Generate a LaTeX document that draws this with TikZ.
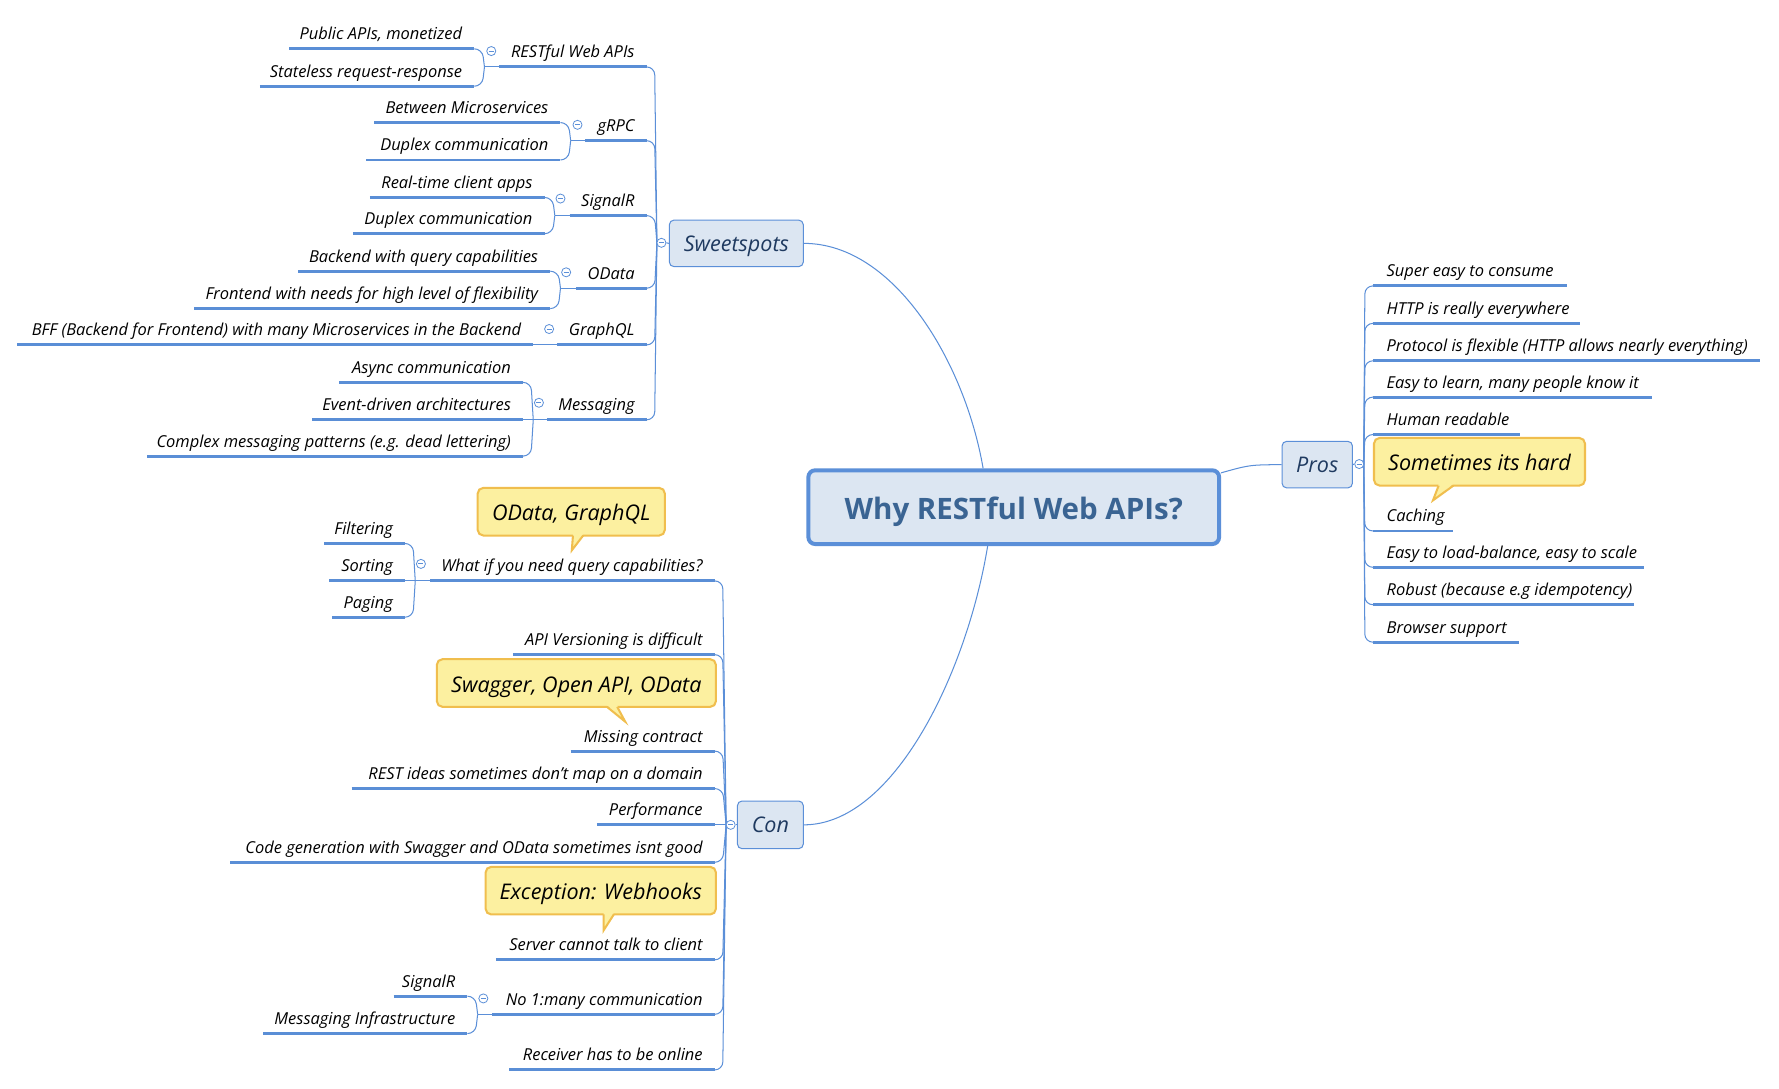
\documentclass[tikz,border=0pt]{standalone}
\usepackage{fontspec}
\setmainfont{Open Sans}
\usetikzlibrary{calc}
\definecolor{ublue}{HTML}{5A8ED6}
\definecolor{cblue}{HTML}{5B8FD8}
\definecolor{boxfill}{HTML}{DCE6F2}
\definecolor{callfill}{HTML}{FCF0A0}
\definecolor{callline}{HTML}{F0BE4E}
\definecolor{navy}{HTML}{1F3A60}
\definecolor{titleblue}{HTML}{3A6493}
% left topic: name, xstart, xend, y, text (text right aligned)
\newcommand\ltopic[5]{%
  \coordinate (#1s) at (#2,#4);
  \coordinate (#1e) at (#3,#4);
  \draw[uline] (#1s) -- (#1e);
  \node[leaf, anchor=base east] (#1) at (#3-10.5,#4-8) {#5};}
% right topic: name, xstart, xend, y, text (text left aligned)
\newcommand\rtopic[5]{%
  \coordinate (#1s) at (#2,#4);
  \coordinate (#1e) at (#3,#4);
  \draw[uline] (#1s) -- (#1e);
  \node[leaf, anchor=base west] (#1) at (#2+12,#4-8) {#5};}
\newcommand\lconn[2]{\draw[conn, rounded corners=7pt] (#1) -- ++(7,0) -- (#2);}
\newcommand\rconn[2]{\draw[conn, rounded corners=7pt] (#1) -- ++(-7,0) -- (#2);}
% baseline placed #1 pt below the node centre
\newcommand\dn[2]{\raisebox{-#1pt}[0pt][0pt]{#2}}
% pointer: b1x, b2x, bottom y, tip coordinate name
\newcommand\pointer[4]{%
  \fill[callfill] (#1,#3-1.5) -- (#4) -- (#2,#3-1.5) -- cycle;
  \draw[callline, line width=1.8pt, line join=miter] (#1,#3) -- (#4) -- (#2,#3);}
\begin{document}
\begin{tikzpicture}[x=1pt,y=-1pt,
  leaf/.style={inner sep=0pt, font=\fontsize{14.5}{17}\selectfont\itshape, text=black},
  uline/.style={draw=ublue, line width=2.6pt},
  conn/.style={draw=cblue, line width=0.9pt},
  minus/.style={circle, draw=cblue, fill=white, line width=0.7pt, minimum size=8pt, inner sep=0pt,
    path picture={\draw[cblue, line width=0.7pt] ([xshift=-2.2pt]path picture bounding box.center) -- ([xshift=2.2pt]path picture bounding box.center);}},
  mainbox/.style={rectangle, rounded corners=6pt, draw=cblue, line width=3.5pt, fill=boxfill,
    font=\fontsize{26}{30}\selectfont\bfseries, text=titleblue, inner sep=0pt},
  branch/.style={rectangle, rounded corners=4pt, draw=cblue, line width=0.9pt, fill=boxfill,
    font=\fontsize{19}{22}\selectfont\itshape, text=navy, inner sep=0pt},
  callbox/.style={rectangle, rounded corners=5pt, draw=callline, line width=1.8pt, fill=callfill,
    font=\fontsize{19}{22}\selectfont\itshape, text=black, inner sep=0pt},
]
\useasboundingbox[fill=white] (0,0) rectangle (1568,959);

% ---------- main and branch boxes ----------
\node[mainbox, minimum width=362pt, minimum height=65pt] (main) at (893.5,447) {\dn{10.5}{Why RESTful Web APIs?}};
\node[branch, minimum width=118pt, minimum height=41pt] (sw) at (649,214.5) {\dn{7}{Sweetspots}};
\node[branch, minimum width=62pt, minimum height=41pt] (pros) at (1161,409.5) {\dn{7}{Pros}};
\node[branch, minimum width=58pt, minimum height=42pt] (con) at (679,727) {\dn{7}{Con}};

\draw[conn] (sw.east) .. controls +(80,0) and +(-16,-93) .. ([xshift=-27pt]main.north);
\draw[conn] ([yshift=-4pt]main.north east) .. controls +(25,-7) .. (pros.west);
\draw[conn] ([xshift=-23pt]main.south) .. controls +(-18,110) and +(80,0) .. (con.east);

% ---------- Sweetspots ----------
\ltopic{rest}{440}{570}{59}{RESTful Web APIs}
\ltopic{grpc}{516}{570}{124}{gRPC}
\ltopic{sigr}{502}{570}{190}{SignalR}
\ltopic{odata}{508}{570}{254}{OData}
\ltopic{gql}{491}{570}{304}{GraphQL}
\ltopic{msg}{482}{570}{370}{Messaging}

\ltopic{pub}{255}{418}{43}{Public APIs, monetized}
\ltopic{stl}{229}{418}{76}{Stateless request-response}
\ltopic{betw}{330}{494}{108}{Between Microservices}
\ltopic{dupa}{323}{494}{141}{Duplex communication}
\ltopic{rtc}{326}{480}{174}{Real-time client apps}
\ltopic{dupb}{311}{480}{206}{Duplex communication}
\ltopic{bqc}{263}{485}{239}{Backend with query capabilities}
\ltopic{fwn}{171}{485}{272}{Frontend with needs for high level of flexibility}
\ltopic{bff}{15}{470}{304}{BFF (Backend for Frontend) with many Microservices in the Backend}
\ltopic{async}{299}{461}{337}{Async communication}
\ltopic{edr}{275}{461}{370}{Event-driven architectures}
\ltopic{cmp}{130}{461}{402}{Complex messaging patterns (e.g. dead lettering)}

\coordinate (swP) at (579,214);
\foreach \c in {rest,grpc,sigr,odata,gql,msg}{\lconn{\c e}{swP}}
\coordinate (restJ) at (427,59);
\coordinate (grpcJ) at (503,124);
\coordinate (sigrJ) at (489,190);
\coordinate (odataJ) at (494,254);
\coordinate (gqlJ) at (479,304);
\coordinate (msgJ) at (470,370);
\lconn{pube}{restJ} \lconn{stle}{restJ} \draw[conn] (restJ) -- (rests);
\lconn{betwe}{grpcJ} \lconn{dupae}{grpcJ} \draw[conn] (grpcJ) -- (grpcs);
\lconn{rtce}{sigrJ} \lconn{dupbe}{sigrJ} \draw[conn] (sigrJ) -- (sigrs);
\lconn{bqce}{odataJ} \lconn{fwne}{odataJ} \draw[conn] (odataJ) -- (odatas);
\draw[conn] (bffe) -- (gqls);
\lconn{asynce}{msgJ} \lconn{edre}{msgJ} \lconn{cmpe}{msgJ} \draw[conn] (msgJ) -- (msgs);

\node[minus] (swc) at (583,214) {};
\draw[conn] (swc.east) -- (sw.west);
\node[minus] (restc) at (433,45) {};
\node[minus] (grpcc) at (509,110) {};
\node[minus] (sigrc) at (494,175) {};
\node[minus] (odatac) at (499,240) {};
\node[minus] (gqlc) at (484,290) {};
\node[minus] (msgc) at (475,355) {};

% ---------- Pros ----------
\rtopic{pa}{1210}{1381}{252}{Super easy to consume}
\rtopic{pb}{1210}{1393}{285}{HTTP is really everywhere}
\rtopic{pc}{1210}{1551}{318}{Protocol is flexible (HTTP allows nearly everything)}
\rtopic{pd}{1210}{1456}{350}{Easy to learn, many people know it}
\rtopic{pe}{1210}{1340}{383}{Human readable}
\rtopic{pf}{1210}{1281}{468}{Caching}
\rtopic{pg}{1210}{1449}{500}{Easy to load-balance, easy to scale}
\rtopic{ph}{1210}{1440}{533}{Robust (because e.g idempotency)}
\rtopic{pi}{1210}{1339}{566}{Browser support}
\coordinate (prosP) at (1202,409);
\foreach \c in {pa,pb,pc,pd,pe,pf,pg,ph,pi}{\rconn{\c s}{prosP}}
\node[minus] (prosc) at (1198,409) {};
\draw[conn] (prosc.west) -- (pros.east);

\node[callbox, minimum width=186pt, minimum height=42pt] (cb1) at (1304,407) {\dn{8}{Sometimes its hard}};
\coordinate (tipa) at (1263,441);
\pointer{1268}{1281}{428}{tipa}

% ---------- Con ----------
\ltopic{wq}{379}{630}{512}{What if you need query capabilities?}
\ltopic{apiv}{452}{630}{577}{API Versioning is difficult}
\ltopic{miss}{503}{630}{662}{Missing contract}
\ltopic{restd}{310}{630}{695}{REST ideas sometimes don't map on a domain}
\ltopic{perf}{526}{630}{727}{Performance}
\ltopic{code}{203}{630}{760}{Code generation with Swagger and OData sometimes isnt good}
\ltopic{srv}{437}{630}{846}{Server cannot talk to client}
\ltopic{nomany}{434}{630}{894}{No 1:many communication}
\ltopic{recv}{449}{630}{943}{Receiver has to be online}

\ltopic{filt}{286}{357}{479}{Filtering}
\ltopic{sort}{290}{357}{512}{Sorting}
\ltopic{pag}{293}{357}{544}{Paging}
\ltopic{sigc}{347}{412}{878}{SignalR}
\ltopic{minf}{232}{412}{911}{Messaging Infrastructure}

\coordinate (conP) at (640,727);
\foreach \c in {wq,apiv,miss,restd,perf,code,srv,nomany,recv}{\lconn{\c e}{conP}}
\coordinate (wqJ) at (366,512);
\coordinate (nomanyJ) at (421,894);
\lconn{filte}{wqJ} \lconn{sorte}{wqJ} \lconn{page}{wqJ} \draw[conn] (wqJ) -- (wqs);
\lconn{sigce}{nomanyJ} \lconn{minfe}{nomanyJ} \draw[conn] (nomanyJ) -- (nomanys);
\node[minus] (conc) at (644,727) {};
\draw[conn] (conc.east) -- (con.west);
\node[minus] (wqc) at (371,497) {};
\node[minus] (nomanyc) at (426,880) {};

\node[callbox, minimum width=165pt, minimum height=42pt] (cb2) at (503.5,451) {\dn{8}{OData, GraphQL}};
\coordinate (tipb) at (504,485);
\pointer{505}{514}{472}{tipb}
\node[callbox, minimum width=246pt, minimum height=42pt] (cb3) at (508,602) {\dn{8}{Swagger, Open API, OData}};
\coordinate (tipc) at (551,636);
\pointer{535}{544}{623}{tipc}
\node[callbox, minimum width=203pt, minimum height=42pt] (cb4) at (529.5,785) {\dn{8}{Exception: Webhooks}};
\coordinate (tipd) at (532,820);
\pointer{532}{541}{806}{tipd}
\end{tikzpicture}
\end{document}
